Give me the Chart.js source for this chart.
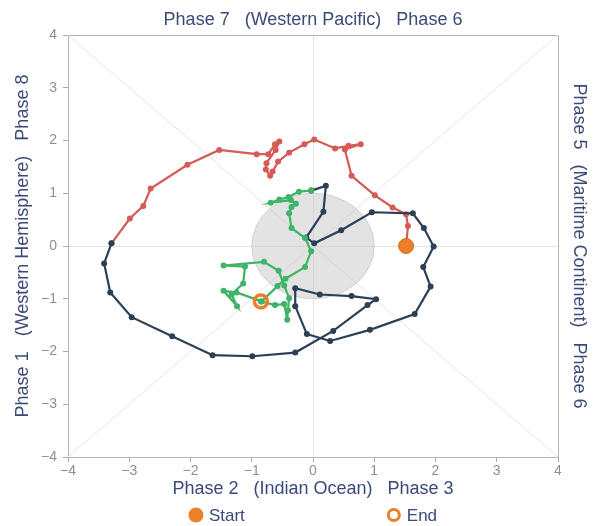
<!DOCTYPE html>
<html><head><meta charset="utf-8">
<script src="https://cdn.jsdelivr.net/npm/chart.js@4"></script>
<style>html,body{margin:0;padding:0;background:#fff}#wrap{width:593px;height:526px;position:relative}</style>
</head><body><div id="wrap"><canvas id="c"></canvas></div>
<script>
// ---- data ----
const tickValues = [-4, -3, -2, -1, 0, 1, 2, 3, 4];
const titleTop = 'Phase 7   (Western Pacific)   Phase 6';
const titleBottom = 'Phase 2   (Indian Ocean)   Phase 3';
const titleLeft = 'Phase 1   (Western Hemisphere)   Phase 8';
const titleRight = 'Phase 5   (Maritime Continent)   Phase 6';
const legendLabels = ['Start', 'End'];

const redX = [1.52,1.55,1.52,1.30,1.01,0.63,0.52,0.78,0.58,0.36,0.02,-0.14,-0.39,-0.57,-0.66,-0.70,-0.77,-0.76,-0.61,-0.55,-0.62,-0.73,-0.92,-1.53,-2.05,-2.65,-2.77,-2.99,-3.29];
const redY = [0.00,0.38,0.60,0.73,0.96,1.33,1.83,1.93,1.90,1.85,2.02,1.93,1.77,1.60,1.41,1.33,1.45,1.57,1.82,1.98,1.93,1.74,1.74,1.82,1.54,1.09,0.76,0.52,0.05];

const navyX = [-3.29,-3.41,-3.31,-2.96,-2.30,-1.64,-0.99,-0.29,0.33,0.89,1.03,0.63,0.11,-0.29,-0.29,-0.10,0.28,0.93,1.66,1.92,1.80,1.97,1.81,1.63,0.96,0.46,0.02,-0.11,0.17,0.21,-0.03];
const navyY = [0.05,-0.33,-0.88,-1.35,-1.71,-2.07,-2.09,-2.02,-1.61,-1.12,-1.01,-0.95,-0.92,-0.80,-1.14,-1.67,-1.80,-1.59,-1.29,-0.77,-0.40,-0.01,0.34,0.62,0.64,0.30,0.05,0.16,0.65,1.14,1.05];

const greenX = [-0.03,-0.23,-0.40,-0.55,-0.69,-0.36,-0.28,-0.35,-0.39,-0.35,-0.13,-0.03,-0.13,-0.45,-0.58,-0.84,-1.25,-1.46,-1.24,-1.33,-1.14,-1.11,-1.46,-0.80,-0.56,-0.47,-0.39,-0.41,-0.42,-0.47,-0.62,-0.85];
const greenY = [1.05,1.03,0.93,0.88,0.82,0.87,0.80,0.74,0.62,0.34,0.15,-0.10,-0.40,-0.62,-0.76,-1.05,-0.88,-0.85,-1.14,-0.92,-0.71,-0.39,-0.37,-0.30,-0.47,-0.75,-0.99,-1.22,-1.40,-1.10,-1.12,-1.05];

// ---- build ----
const pts = (xs, ys) => xs.map((x, i) => ({x, y: ys[i]}));
const startPt = [{x: redX[0], y: redY[0]}];
const endPt = [{x: greenX[greenX.length-1], y: greenY[greenY.length-1]}];

const RED = '#d65a55', NAVY = '#2b3f56', GREEN = '#3db466', ORANGE = '#ec7f2a';
const TXT = '#3b4a78', TICK = '#8f8f8f';
const FONT = '"Liberation Sans", Arial, sans-serif';
const fmt = v => (v < 0 ? '\u2212' + Math.abs(v) : String(v));

function track(label, data, color, order) {
  return {label, data, showLine: true, borderColor: color, backgroundColor: color,
    pointBackgroundColor: color, pointBorderColor: color, borderWidth: 2.2, pointBorderWidth: 0,
    pointRadius: 3, pointHoverRadius: 3, order};
}

const guidePlugin = {
  id: 'guides',
  beforeDatasetsDraw(chart) {
    const {ctx, scales: {x, y}} = chart;
    const x0 = x.getPixelForValue(0), y0 = y.getPixelForValue(0);
    ctx.save();
    ctx.strokeStyle = '#e4e4e4'; ctx.lineWidth = 1;
    ctx.beginPath();
    ctx.moveTo(x.getPixelForValue(x.min), y.getPixelForValue(y.min));
    ctx.lineTo(x.getPixelForValue(x.max), y.getPixelForValue(y.max));
    ctx.moveTo(x.getPixelForValue(x.min), y.getPixelForValue(y.max));
    ctx.lineTo(x.getPixelForValue(x.max), y.getPixelForValue(y.min));
    ctx.stroke();
    const rx = x.getPixelForValue(1) - x0, ry = y0 - y.getPixelForValue(1);
    ctx.beginPath();
    ctx.ellipse(x0, y0, rx, ry, 0, 0, Math.PI * 2);
    ctx.fillStyle = 'rgba(200,200,200,0.5)';
    ctx.fill();
    ctx.strokeStyle = 'rgba(190,190,190,0.6)';
    ctx.stroke();
    ctx.restore();
  }
};

const legendPlugin = {
  id: 'customLegend',
  afterDraw(chart) {
    const {ctx, chartArea} = chart;
    ctx.save();
    ctx.font = '17px ' + FONT;
    ctx.textBaseline = 'middle';
    const yy = 515, box = 14, gap = 6, sep = 142;
    const w0 = box + gap + ctx.measureText(legendLabels[0]).width;
    const w1 = box + gap + ctx.measureText(legendLabels[1]).width;
    const total = w0 + sep + w1;
    let xx = (chartArea.left + chartArea.right) / 2 - total / 2;
    ctx.beginPath(); ctx.arc(xx + box/2, yy, 7.5, 0, Math.PI*2);
    ctx.fillStyle = ORANGE; ctx.fill();
    ctx.fillStyle = TXT; ctx.fillText(legendLabels[0], xx + box + gap, yy + 1);
    xx += w0 + sep;
    ctx.beginPath(); ctx.arc(xx + box/2, yy, 5.5, 0, Math.PI*2);
    ctx.lineWidth = 3; ctx.strokeStyle = ORANGE; ctx.stroke();
    ctx.fillStyle = TXT; ctx.fillText(legendLabels[1], xx + box + gap, yy + 1);
    ctx.restore();
  }
};

const titleFont = {family: FONT, size: 18};
const tickFont = {family: FONT, size: 14};

new Chart(document.getElementById('c'), {
  type: 'scatter',
  data: {datasets: [
    {label: legendLabels[1], data: endPt, pointRadius: 6.5, pointHoverRadius: 6.5, pointBorderWidth: 3.5,
      pointBorderColor: ORANGE, pointBackgroundColor: 'rgba(0,0,0,0)', order: 0},
    {label: legendLabels[0], data: startPt, pointRadius: 7.5, pointHoverRadius: 7.5, pointBorderWidth: 1,
      pointBorderColor: '#d86a1c', pointBackgroundColor: ORANGE, order: 1},
    track('green', pts(greenX, greenY), GREEN, 2),
    track('navy', pts(navyX, navyY), NAVY, 3),
    track('red', pts(redX, redY), RED, 4)
  ]},
  options: {
    responsive: true, maintainAspectRatio: false, animation: false,
    layout: {padding: 0},
    plugins: {legend: {display: false}, tooltip: {enabled: false}},
    scales: {
      x: {type: 'linear', position: 'bottom', min: -4, max: 4,
        afterFit: s => { s.height = 69; },
        afterBuildTicks: s => { s.ticks = tickValues.map(v => ({value: v})); },
        ticks: {callback: fmt, color: TICK, font: tickFont, padding: 1},
        grid: {color: c => (c.tick && c.tick.value === 0 ? '#e4e4e4' : 'rgba(0,0,0,0)'), tickColor: '#aaaaaa', tickLength: 5},
        border: {color: '#b4b4b4'},
        title: {display: true, text: titleBottom, color: TXT, font: titleFont, padding: {top: 0, bottom: 26}}},
      x2: {type: 'linear', position: 'top', min: -4, max: 4,
        afterFit: s => { s.height = 35; },
        ticks: {display: false}, grid: {display: false}, border: {color: '#b4b4b4'},
        title: {display: true, text: titleTop, color: TXT, font: titleFont, padding: {top: 9, bottom: 0}}},
      y: {type: 'linear', position: 'left', min: -4, max: 4,
        afterFit: s => { s.width = 68; },
        afterBuildTicks: s => { s.ticks = tickValues.map(v => ({value: v})); },
        ticks: {callback: fmt, color: TICK, font: tickFont, padding: 6},
        grid: {color: c => (c.tick && c.tick.value === 0 ? '#e4e4e4' : 'rgba(0,0,0,0)'), tickColor: '#aaaaaa', tickLength: 5},
        border: {color: '#b4b4b4'},
        title: {display: true, text: titleLeft, color: TXT, font: titleFont, padding: {top: 12, bottom: 0}}},
      y2: {type: 'linear', position: 'right', min: -4, max: 4,
        afterFit: s => { s.width = 35; },
        ticks: {display: false}, grid: {display: false}, border: {color: '#b4b4b4'},
        title: {display: true, text: titleRight, color: TXT, font: titleFont, padding: {top: 3, bottom: 0}}}
    }
  },
  plugins: [guidePlugin, legendPlugin]
});
</script>
</body></html>
